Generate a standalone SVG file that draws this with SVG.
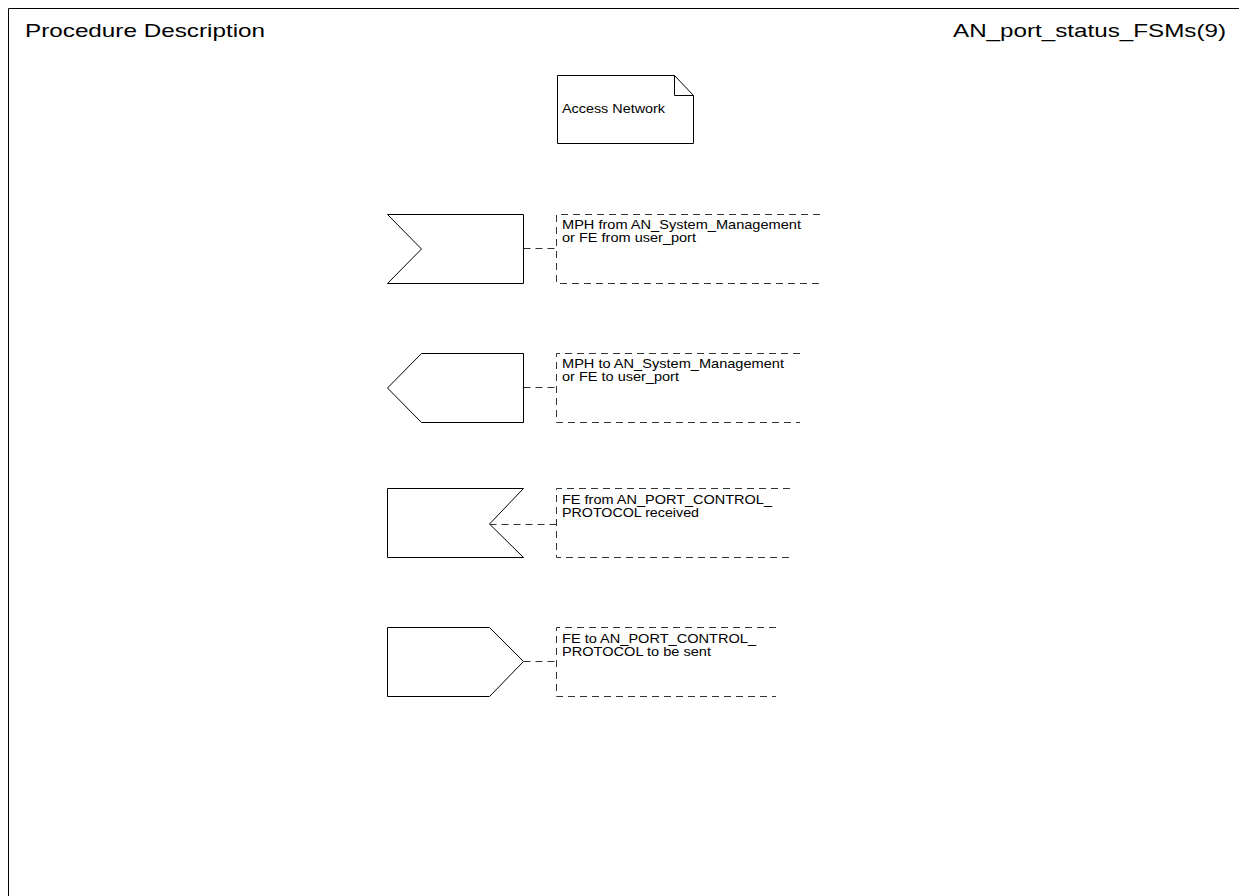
<svg xmlns="http://www.w3.org/2000/svg" width="1239" height="896" viewBox="0 0 1239 896">
<style>
.sym{fill:#fff;stroke:#000;stroke-width:1}
.dash{fill:none;stroke:#333;stroke-width:1;stroke-dasharray:7,5}
.t{font-family:"Liberation Sans",Arial,sans-serif;font-size:13px;fill:#000}
.h{font-family:"Liberation Sans",Arial,sans-serif;font-size:18.5px;fill:#000}
</style>
<rect width="1239" height="896" fill="#fff"/>
<g id="frame">
<polyline points="8.5,896 8.5,8.5 1239,8.5" fill="none" stroke="#000" stroke-width="1"/>
<text class="h" x="25" y="37" textLength="240" lengthAdjust="spacingAndGlyphs">Procedure Description</text>
<text class="h" x="953" y="37" textLength="273" lengthAdjust="spacingAndGlyphs">AN_port_status_FSMs(9)</text>
</g>
<g id="access_network">
<path class="sym" d="M557.5,75.5 H674.5 L693.5,95.5 V143.5 H557.5 Z"/>
<polyline points="674.5,75.5 674.5,95.5 693.5,95.5" fill="none" stroke="#000"/>
<text class="t" x="562" y="113" textLength="103" lengthAdjust="spacingAndGlyphs">Access Network</text>
</g>
<g id="input_signal">
<path class="sym" d="M387.5,214.5 H523.5 V283.5 H387.5 L421.5,249 Z"/>
</g>
<g id="comment1">
<path class="dash" d="M820,214.5 H556.5 V283.5 H820"/>
<text class="t" x="562" y="229" textLength="239" lengthAdjust="spacingAndGlyphs">MPH from AN_System_Management</text>
<text class="t" x="562" y="242" textLength="134" lengthAdjust="spacingAndGlyphs">or FE from user_port</text>
</g>
<g id="output_signal">
<path class="sym" d="M421.5,353.5 H523.5 V422.5 H421.5 L387.5,388 Z"/>
</g>
<g id="comment2">
<path class="dash" d="M800,353.5 H556.5 V422.5 H800"/>
<text class="t" x="562" y="368" textLength="222" lengthAdjust="spacingAndGlyphs">MPH to AN_System_Management</text>
<text class="t" x="562" y="381" textLength="117" lengthAdjust="spacingAndGlyphs">or FE to user_port</text>
</g>
<g id="input_protocol">
<path class="sym" d="M387.5,488.5 H523.5 L489.5,524 L523.5,557.5 H387.5 Z"/>
</g>
<g id="comment3">
<path class="dash" d="M790,488.5 H556.5 V557.5 H790"/>
<text class="t" x="562" y="504" textLength="210" lengthAdjust="spacingAndGlyphs">FE from AN_PORT_CONTROL_</text>
<text class="t" x="562" y="517" textLength="137" lengthAdjust="spacingAndGlyphs">PROTOCOL received</text>
</g>
<g id="output_protocol">
<path class="sym" d="M387.5,627.5 H489.5 L523.5,661.5 L489.5,696.5 H387.5 Z"/>
</g>
<g id="comment4">
<path class="dash" d="M776,627.5 H556.5 V696.5 H776"/>
<text class="t" x="562" y="643" textLength="194" lengthAdjust="spacingAndGlyphs">FE to AN_PORT_CONTROL_</text>
<text class="t" x="562" y="656" textLength="149" lengthAdjust="spacingAndGlyphs">PROTOCOL to be sent</text>
</g>
<g id="connectors">
<line class="dash" x1="523.5" y1="248.5" x2="556.5" y2="248.5"/>
<line class="dash" x1="523.5" y1="387.5" x2="556.5" y2="387.5"/>
<line class="dash" x1="489.5" y1="524.5" x2="556.5" y2="524.5"/>
<line class="dash" x1="523.5" y1="661.5" x2="556.5" y2="661.5"/>
</g>
</svg>
